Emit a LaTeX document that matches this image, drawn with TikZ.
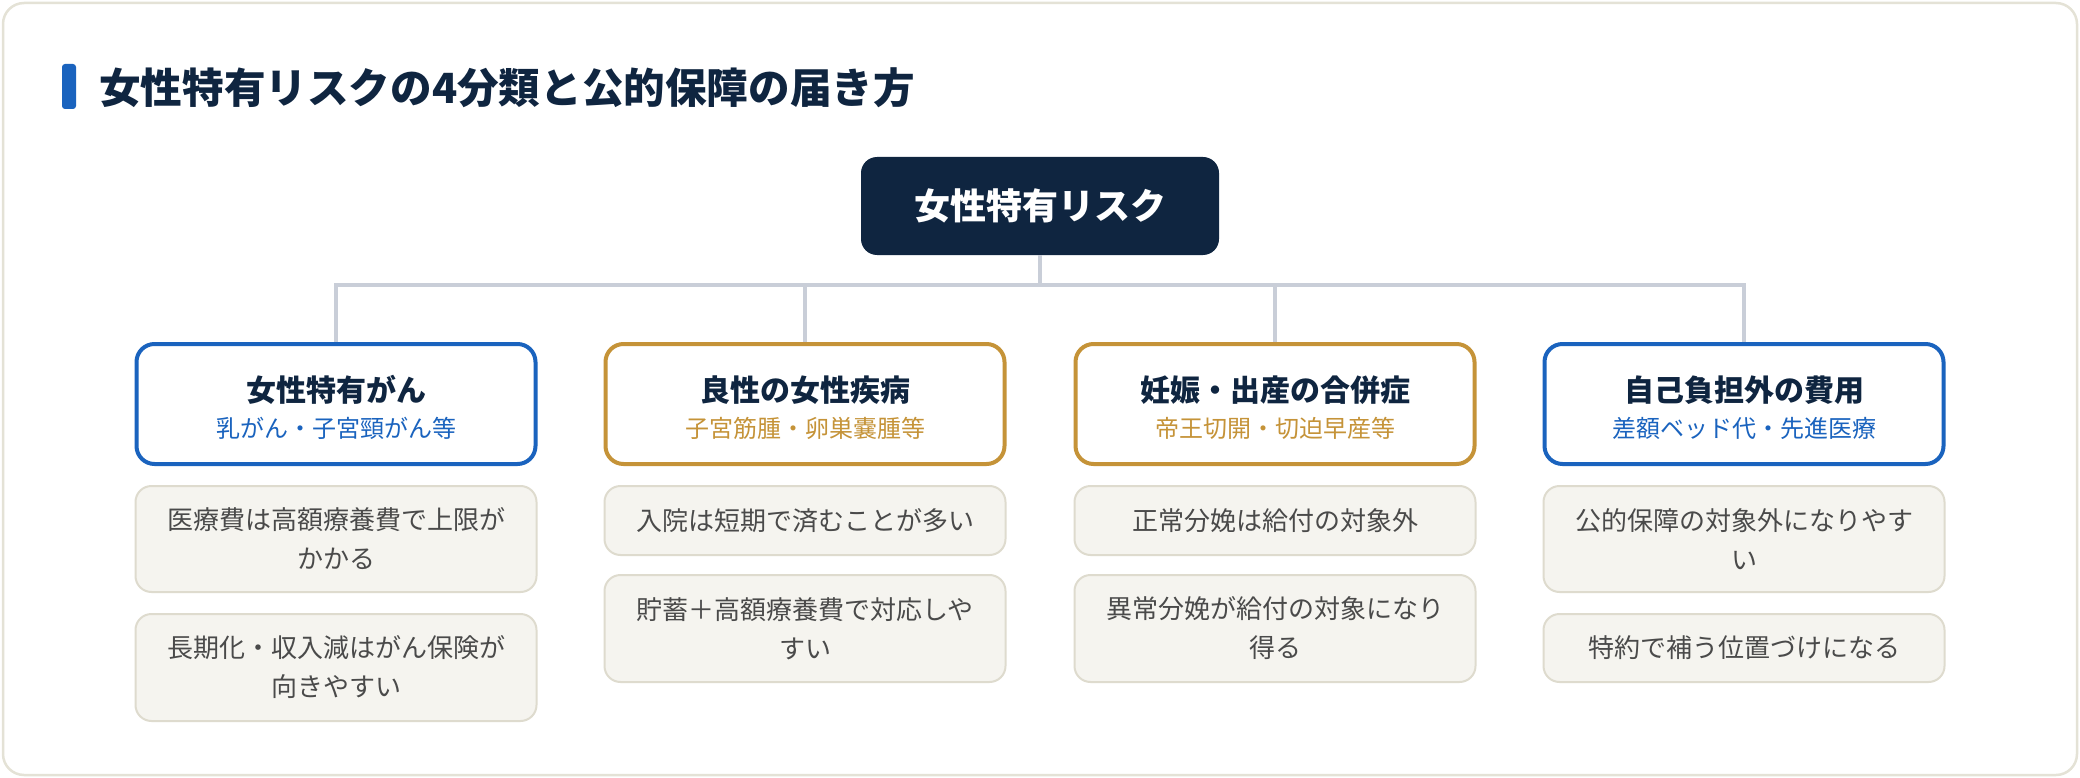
\documentclass[tikz,border=0pt]{standalone}
\usepackage{fontspec}
\setmainfont{Noto Sans CJK JP}
\definecolor{navy}{HTML}{0F2540}
\definecolor{riskblue}{HTML}{1A63BE}
\definecolor{riskgold}{HTML}{C59338}
\definecolor{linkgray}{HTML}{C9CED8}
\definecolor{notefill}{HTML}{F5F4EF}
\definecolor{noteline}{HTML}{DEDBCE}
\definecolor{notetext}{HTML}{4A4A4A}
\definecolor{cardline}{HTML}{E4E2D6}
\tikzset{catbox/.style={draw=#1,line width=4pt,rounded corners=18pt,fill=white,minimum width=399pt,minimum height=120pt},
  cattitle/.style={inner sep=0pt,text=navy,font=\fontsize{30}{30}\selectfont\bfseries},
  catsub/.style={inner sep=0pt,text=#1,font=\fontsize{24}{24}\selectfont},
  notebox/.style={draw=noteline,fill=notefill,line width=2pt,rounded corners=16pt,minimum width=401pt,align=center,text=notetext,font=\fontsize{26}{39}\selectfont},
  link/.style={draw=linkgray,line width=3.5pt}}

\begin{document}
\begin{tikzpicture}[x=1pt,y=-1pt]
        \useasboundingbox (0,0) rectangle (2080,778);
        \draw[cardline,line width=2.5pt,fill=white,rounded corners=21pt] (3,3) rectangle (2077,775);
        \fill[riskblue,rounded corners=3pt] (62,64) rectangle (76,109);
        \node[anchor=west,inner sep=0pt,text=navy,font=\fontsize{41.6}{42}\selectfont\bfseries] (heading) at (99,88) {女性特有リスクの4分類と公的保障の届き方};
        \node[fill=navy,rounded corners=16pt,minimum width=358pt,minimum height=98pt,text=white,font=\fontsize{36}{36}\selectfont\bfseries] (risk) at (1040,206) {女性特有リスク};
        \coordinate (bus) at (1040,285);
        \node[catbox=riskblue] (cancer) at (336,404) {};
        \node[catbox=riskgold] (benign) at (805,404) {};
        \node[catbox=riskgold] (birth) at (1275,404) {};
        \node[catbox=riskblue] (costs) at (1744,404) {};
        \draw[link] (risk.south) -- (bus);
        \foreach \n in {cancer,benign,birth,costs}
          \draw[link] (bus) -| (\n.north);
        \node[cattitle] (cancer-t) at (336,390) {女性特有がん};
        \node[catsub=riskblue] (cancer-s) at (336,428) {乳がん・子宮頸がん等};
        \node[cattitle] (benign-t) at (805,390) {良性の女性疾病};
        \node[catsub=riskgold] (benign-s) at (805,428) {子宮筋腫・卵巣嚢腫等};
        \node[cattitle] (birth-t) at (1275,390) {妊娠・出産の合併症};
        \node[catsub=riskgold] (birth-s) at (1275,428) {帝王切開・切迫早産等};
        \node[cattitle] (costs-t) at (1744,390) {自己負担外の費用};
        \node[catsub=riskblue] (costs-s) at (1744,428) {差額ベッド代・先進医療};
        \node[notebox,minimum height=106pt] (cancer-a) at (336,539) {医療費は高額療養費で上限が\\かかる};
        \node[notebox,minimum height=107pt] (cancer-b) at (336,667.5) {長期化・収入減はがん保険が\\向きやすい};
        \node[notebox,minimum height=69pt] (benign-a) at (805,520.5) {入院は短期で済むことが多い};
        \node[notebox,minimum height=107pt] (benign-b) at (805,628.5) {貯蓄＋高額療養費で対応しや\\すい};
        \node[notebox,minimum height=69pt] (birth-a) at (1275,520.5) {正常分娩は給付の対象外};
        \node[notebox,minimum height=107pt] (birth-b) at (1275,628.5) {異常分娩が給付の対象になり\\得る};
        \node[notebox,minimum height=106pt] (costs-a) at (1744,539) {公的保障の対象外になりやす\\い};
        \node[notebox,minimum height=68pt] (costs-b) at (1744,648) {特約で補う位置づけになる};
\end{tikzpicture}
\end{document}
